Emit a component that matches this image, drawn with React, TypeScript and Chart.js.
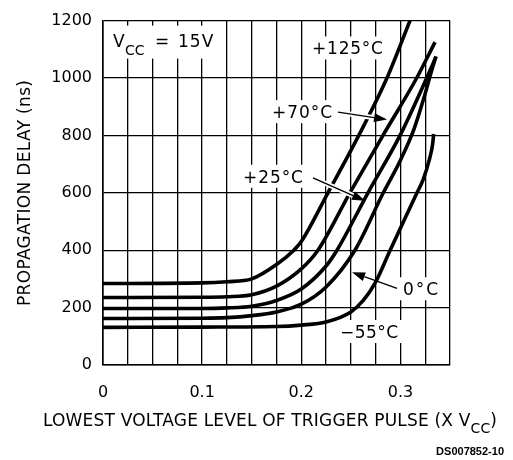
import { useEffect, useRef } from "react";
import { Chart, registerables } from "chart.js";

Chart.register(...registerables);

// ---- data ----
const xTickValues = [0, 0.1, 0.2, 0.3];
const xTickLabels = ["0", "0.1", "0.2", "0.3"];
const yTickValues = [0, 200, 400, 600, 800, 1000, 1200];

const seriesNames = ["+125°C", "+70°C", "+25°C", "0°C", "\u221255°C"];

const x125 = [0, 0.1, 0.125, 0.15, 0.175, 0.1925, 0.2, 0.2269, 0.258, 0.2864, 0.3097];
const y125 = [284, 286, 290, 300, 350, 400, 430, 600, 800, 1000, 1200];

const x70 = [0, 0.1, 0.125, 0.15, 0.175, 0.2, 0.2168, 0.249, 0.2824, 0.3164, 0.3349];
const y70 = [235, 236, 238, 245, 275, 335, 400, 600, 800, 1000, 1125];

const x25 = [0, 0.1, 0.125, 0.15, 0.175, 0.2, 0.225, 0.236, 0.2673, 0.2996, 0.3265, 0.336];
const y25 = [197, 197, 199, 205, 225, 265, 345, 400, 600, 800, 1000, 1075];

const x0 = [0, 0.1, 0.125, 0.15, 0.175, 0.2, 0.225, 0.2541, 0.2827, 0.2995, 0.3135, 0.3245, 0.331, 0.3358];
const y0 = [162, 163, 165, 172, 185, 212, 272, 400, 600, 710, 820, 940, 1020, 1075];

const xM55 = [0, 0.1, 0.175, 0.2, 0.225, 0.25, 0.2625, 0.2751, 0.2895, 0.3167, 0.3228, 0.3295, 0.3325, 0.3335];
const yM55 = [131, 132, 134, 139, 150, 185, 225, 290, 399, 600, 645, 720, 770, 805];

const seriesX = [x125, x70, x25, x0, xM55];
const seriesY = [y125, y70, y25, y0, yM55];

// label anchors in data units: [x, baseline y, width(px)]
const labelAnchors: [number, number, number][] = [
  [0.2108, 1082, 71],
  [0.1705, 860, 60],
  [0.1412, 635, 60],
  [0.3026, 243, 35],
  [0.2391, 94, 58],
];

// arrows in data units: [fromX, fromY, toX, toY, halo]
const arrows: [number, number, number, number, boolean][] = [
  [0.237, 881, 0.2865, 855, true],
  [0.2118, 652, 0.2643, 572, true],
  [0.2966, 267, 0.2512, 323, false],
];

const FONT = '"DejaVu Sans"';

type Run = [string, number, number];

function drawRuns(ctx: CanvasRenderingContext2D, runs: Run[], x: number, y: number, target: number) {
  ctx.save();
  (ctx as any).letterSpacing = "0px";
  let nat = 0;
  let count = 0;
  for (const [t, s] of runs) {
    ctx.font = `${s}px ${FONT}`;
    nat += ctx.measureText(t).width;
    count += [...t].length;
  }
  const ls = count > 1 ? (target - nat) / (count - 1) : 0;
  let cx = x;
  ctx.textAlign = "left";
  ctx.textBaseline = "alphabetic";
  ctx.fillStyle = "#000";
  for (const [t, s, dy] of runs) {
    ctx.font = `${s}px ${FONT}`;
    (ctx as any).letterSpacing = "0px";
    const w = ctx.measureText(t).width;
    (ctx as any).letterSpacing = `${ls}px`;
    ctx.fillText(t, cx, y + dy);
    cx += w + [...t].length * ls;
  }
  ctx.restore();
}

const annotationPlugin = {
  id: "annotations",
  beforeDatasetsDraw(chart: any) {
    const ctx: CanvasRenderingContext2D = chart.ctx;
    const xs = chart.scales.x;
    const ys = chart.scales.y;
    const area = chart.chartArea;
    ctx.save();
    ctx.fillStyle = "#fff";
    // V_CC box
    ctx.fillRect(area.left + 1, area.top + 5, 112, 33);
    labelAnchors.forEach(([lx, ly, w]) => {
      const px = xs.getPixelForValue(lx);
      const py = ys.getPixelForValue(ly);
      ctx.fillRect(px - 4, py - 18, w + 8, 23);
    });
    ctx.restore();
    // V_CC = 15V text
    const vx = area.left + 10;
    const vy = area.top + 26;
    ctx.save();
    ctx.fillStyle = "#000";
    ctx.font = `17px ${FONT}`;
    ctx.fillText("V", vx, vy);
    ctx.font = `14px ${FONT}`;
    ctx.fillText("CC", vx + 12, vy + 8);
    ctx.font = `17px ${FONT}`;
    ctx.fillText("=", vx + 42, vy);
    (ctx as any).letterSpacing = "1px";
    ctx.fillText("15V", vx + 65, vy);
    ctx.restore();
    labelAnchors.forEach(([lx, ly, w], i) => {
      drawRuns(ctx, [[seriesNames[i], 17, 0]], xs.getPixelForValue(lx), ys.getPixelForValue(ly), w);
    });
  },
  afterDatasetsDraw(chart: any) {
    const ctx: CanvasRenderingContext2D = chart.ctx;
    const xs = chart.scales.x;
    const ys = chart.scales.y;
    ctx.save();
    arrows.forEach(([ax, ay, bx, by, halo]) => {
      const x1 = xs.getPixelForValue(ax);
      const y1 = ys.getPixelForValue(ay);
      const x2 = xs.getPixelForValue(bx);
      const y2 = ys.getPixelForValue(by);
      const ang = Math.atan2(y2 - y1, x2 - x1);
      const len = 13;
      const hw = 4.5;
      const bxp = x2 - len * Math.cos(ang);
      const byp = y2 - len * Math.sin(ang);
      if (halo) {
        // white halo (gaps in crossed curves)
        ctx.strokeStyle = "#fff";
        ctx.lineWidth = 5;
        ctx.lineCap = "butt";
        ctx.beginPath();
        ctx.moveTo(x1 + 4 * Math.cos(ang), y1 + 4 * Math.sin(ang));
        ctx.lineTo(bxp, byp);
        ctx.stroke();
      }
      ctx.strokeStyle = "#000";
      ctx.lineWidth = 1.4;
      ctx.beginPath();
      ctx.moveTo(x1, y1);
      ctx.lineTo(bxp, byp);
      ctx.stroke();
      ctx.fillStyle = "#000";
      ctx.beginPath();
      ctx.moveTo(x2, y2);
      ctx.lineTo(bxp + hw * Math.sin(ang), byp - hw * Math.cos(ang));
      ctx.lineTo(bxp - hw * Math.sin(ang), byp + hw * Math.cos(ang));
      ctx.closePath();
      ctx.fill();
    });
    ctx.restore();
  },
  afterDraw(chart: any) {
    const ctx: CanvasRenderingContext2D = chart.ctx;
    const area = chart.chartArea;
    // y axis title (rotated)
    ctx.save();
    ctx.translate(30, 306);
    ctx.rotate(-Math.PI / 2);
    drawRuns(ctx, [["PROPAGATION DELAY (ns)", 17, 0]], 0, 0, 226);
    ctx.restore();
    // x axis title with subscript
    drawRuns(
      ctx,
      [
        ["LOWEST VOLTAGE LEVEL OF TRIGGER PULSE (X V", 17, 0],
        ["CC", 14, 7],
        [")", 17, 0],
      ],
      43,
      area.bottom + 61,
      454
    );
    // figure code
    ctx.save();
    ctx.fillStyle = "#000";
    ctx.font = 'bold 11px "Liberation Sans"';
    ctx.textAlign = "right";
    ctx.fillText("DS007852-10", 504, 455);
    ctx.restore();
  },
};

export default function App() {
  const ref = useRef<HTMLCanvasElement | null>(null);
  useEffect(() => {
    document.body.style.margin = "0";
    const canvas = ref.current;
    if (!canvas) return;
    const datasets = seriesNames.map((name, i) => ({
      label: name,
      data: seriesX[i].map((x, j) => ({ x, y: seriesY[i][j] })),
      borderColor: "#000",
      backgroundColor: "#000",
      borderWidth: 3.6,
      pointRadius: 0,
      fill: false,
      cubicInterpolationMode: "monotone" as const,
      borderCapStyle: "butt" as const,
    }));
    const chart = new Chart(canvas, {
      type: "line",
      data: { datasets },
      plugins: [annotationPlugin],
      options: {
        responsive: false,
        animation: false,
        events: [],
        layout: { padding: { top: 19, right: 63, left: 0, bottom: 0 } },
        plugins: { legend: { display: false }, tooltip: { enabled: false }, title: { display: false } },
        scales: {
          x: {
            type: "linear",
            min: 0,
            max: 0.35,
            afterFit: (s: any) => {
              s.height = 95;
            },
            ticks: {
              stepSize: 0.025,
              autoSkip: false,
              maxRotation: 0,
              padding: 18,
              color: "#000",
              font: { family: "DejaVu Sans", size: 16 },
              callback: (v: any) => {
                const idx = xTickValues.findIndex((t) => Math.abs(t - Number(v)) < 1e-6);
                return idx >= 0 ? xTickLabels[idx] : "";
              },
            },
            grid: { color: "#000", lineWidth: 1.3, drawTicks: false },
            border: { display: true, color: "#000", width: 1.6 },
          },
          y: {
            type: "linear",
            min: 0,
            max: 1200,
            afterFit: (s: any) => {
              s.width = 103;
            },
            ticks: {
              stepSize: 200,
              padding: 11,
              color: "#000",
              font: { family: "DejaVu Sans", size: 16 },
              callback: (v: any) => (yTickValues.includes(Number(v)) ? String(v) : ""),
            },
            grid: { color: "#000", lineWidth: 1.3, drawTicks: false },
            border: { display: true, color: "#000", width: 1.6 },
          },
        },
      },
    });
    return () => chart.destroy();
  }, []);
  return <canvas ref={ref} width={513} height={460} style={{ display: "block" }} />;
}
